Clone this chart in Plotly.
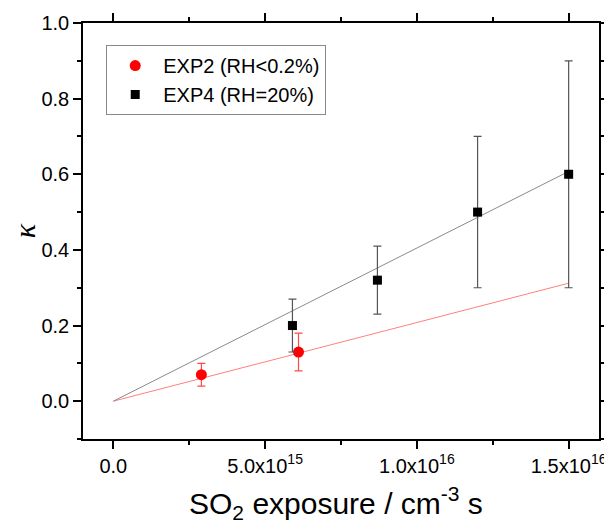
import plotly.graph_objects as go
import numpy as np

# ---- data ----
exp2_x = [2.9e15, 6.1e15]
exp2_y = [0.07, 0.13]
exp2_err = [0.03, 0.05]

exp4_x = [5.9e15, 8.7e15, 1.2e16, 1.5e16]
exp4_y = [0.20, 0.32, 0.50, 0.60]
exp4_err = [0.07, 0.09, 0.20, 0.30]

# linear fits through origin (slope in kappa per cm^-3 s)
fit_x = [0.0, 1.5e16]
exp2_slope = 2.08e-17
exp4_slope = 4.05e-17

x_tickvals = [0, 5e15, 1e16, 1.5e16]
x_ticktext = ["0.0", "5.0x10<sup>15</sup>", "1.0x10<sup>16</sup>", "1.5x10<sup>16</sup>"]
y_tickvals = [0.0, 0.2, 0.4, 0.6, 0.8, 1.0]
y_ticktext = ["0.0", "0.2", "0.4", "0.6", "0.8", "1.0"]

series_names = ["EXP2 (RH<0.2%)", "EXP4 (RH=20%)"]
x_title = "SO<sub>2</sub> exposure / cm<sup>-3</sup> s"
y_title = "<i>κ</i>"

font_family = "Liberation Sans, Arial, sans-serif"

fig = go.Figure()

fx = np.array(fit_x)
fig.add_trace(go.Scatter(x=fx, y=exp2_slope * fx, mode="lines",
                         line=dict(color="#ff8080", width=1), showlegend=False, hoverinfo="skip"))
fig.add_trace(go.Scatter(x=fx, y=exp4_slope * fx, mode="lines",
                         line=dict(color="#8a8a8a", width=1), showlegend=False, hoverinfo="skip"))

fig.add_trace(go.Scatter(
    x=exp2_x, y=exp2_y, mode="markers", name=series_names[0],
    marker=dict(symbol="circle", size=11, color="#ff0000"),
    error_y=dict(type="data", array=exp2_err, color="#ff4a4a", thickness=1.2, width=4),
))
fig.add_trace(go.Scatter(
    x=exp4_x, y=exp4_y, mode="markers", name=series_names[1],
    marker=dict(symbol="square", size=9, color="#000000"),
    error_y=dict(type="data", array=exp4_err, color="#555555", thickness=1.2, width=4),
))

axis_common = dict(
    showline=True, linecolor="#000000", linewidth=1.6, mirror="ticks",
    ticks="outside", ticklen=8, tickwidth=1.5, tickcolor="#000000",
    showgrid=False, zeroline=False, automargin=False,
    tickfont=dict(family=font_family, size=20, color="#000000"),
)

fig.update_xaxes(
    range=[-1e15, 1.6e16], tickvals=x_tickvals, ticktext=x_ticktext,
    minor=dict(ticks="outside", ticklen=4, tickwidth=1.5, tickcolor="#000000",
               tick0=0, dtick=2.5e15, showgrid=False),
    **axis_common,
)
fig.update_yaxes(
    range=[-0.1, 1.0], tickvals=y_tickvals, ticktext=y_ticktext,
    minor=dict(ticks="outside", ticklen=4, tickwidth=1.5, tickcolor="#000000",
               tick0=0, dtick=0.1, showgrid=False),
    title=dict(text=y_title, font=dict(family="Liberation Serif, serif", size=30, color="#000000"),
               standoff=8),
    **axis_common,
)

# x-axis title as a paper-anchored annotation so it can sit low in the margin
fig.add_annotation(
    text=x_title, xref="paper", yref="paper", x=0.49, y=-0.155,
    xanchor="center", yanchor="middle", showarrow=False,
    font=dict(family=font_family, size=30, color="#000000"),
)

# the page body adds an 8px offset, so the figure is 8px smaller than the window
fig.update_layout(
    width=604, height=517,
    margin=dict(l=75, r=13, t=15, b=86),
    paper_bgcolor="#ffffff", plot_bgcolor="#ffffff",
    showlegend=True,
    legend=dict(x=0.045, y=0.947, xanchor="left", yanchor="top",
                bgcolor="#ffffff", bordercolor="#888888", borderwidth=1,
                font=dict(family=font_family, size=20, color="#000000"),
                itemwidth=46, tracegroupgap=0),
)

fig.write_html("out.html")
